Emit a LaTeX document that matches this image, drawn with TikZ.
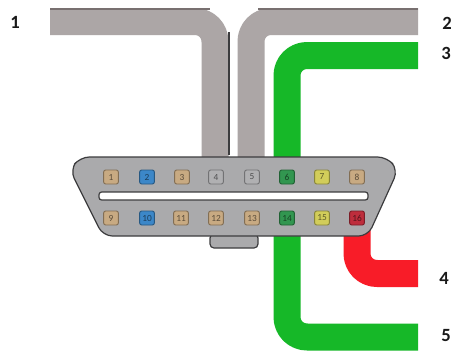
\documentclass[tikz,border=0pt]{standalone}
\usepackage{fontspec}
\setmainfont{Carlito}
\definecolor{wiregray}{RGB}{172,166,166}
\definecolor{wireedge}{RGB}{120,112,112}
\definecolor{wiregreen}{RGB}{22,184,40}
\definecolor{wirered}{RGB}{248,28,40}
\definecolor{body}{RGB}{170,170,172}
\definecolor{edge}{RGB}{60,60,62}
\definecolor{ptan}{RGB}{200,170,130}
\definecolor{pblue}{RGB}{60,135,200}
\definecolor{pgray}{RGB}{176,176,178}
\definecolor{pgreen}{RGB}{50,150,80}
\definecolor{pyellow}{RGB}{210,205,90}
\definecolor{pred}{RGB}{190,45,60}
\tikzset{
  x=0.75pt,y=-0.75pt,
  wire/.style={line width=20.25pt,rounded corners=15pt,line join=round},
  pin/.style={draw=#1!65!black,fill=#1,line width=0.7pt,rounded corners=1.5pt,minimum width=11pt,minimum height=10.5pt,inner sep=0pt,font=\fontsize{7}{7}\selectfont,text=#1!45!black},
  lab/.style={font=\bfseries\fontsize{14}{15}\selectfont,text=black!90}
}
\begin{document}
\begin{tikzpicture}
\useasboundingbox (0,0) rectangle (451,351);
\fill[white] (0,0) rectangle (451,351);
% wires
\draw[wire,wiregray] (50,21.5) -- (215,21.5) -- (215,165);
\draw[wire,wiregray] (418,21.5) -- (251,21.5) -- (251,165);
\fill[wireedge] (50,8) rectangle (210,10);
\fill[wireedge] (258,8) rectangle (418,10);
\draw[wire,wiregreen] (418,55.5) -- (287,55.5) -- (287,165);
\draw[wire,wiregreen] (287,225) -- (287,337) -- (418,337);
\draw[wire,wirered] (357,225) -- (357,273.5) -- (418,273.5);
\draw[edge,line width=0.9pt] (229,32) -- (229,155);
% body
\path[draw=edge,fill=body,line width=0.9pt,rounded corners=3pt] (210,234) -- (210,248) -- (258,248) -- (258,234) -- cycle;
\path[draw=edge,fill=body,line width=0.9pt,rounded corners=7pt]
  (80,157) -- (387,157) -- (398,170) -- (368,236) -- (103,236) -- (70,170) -- cycle;
\path[draw=edge,fill=white,line width=0.9pt,rounded corners=2pt] (99,192) rectangle (368,200);
% pins
\foreach \n/\x/\c in {1/111/ptan,2/147/pblue,3/182/ptan,4/216/pgray,5/252/pgray,6/287/pgreen,7/322/pyellow,8/357/ptan}
  \node[pin=\c] (p\n) at (\x,177) {\n};
\foreach \n/\x/\c in {9/111/ptan,10/147/pblue,11/181/ptan,12/216/ptan,13/252/ptan,14/287/pgreen,15/322/pyellow,16/357/pred}
  \node[pin=\c] (p\n) at (\x,218) {\n};
% labels
\node[lab] (l1) at (15,22) {1};
\node[lab] (l2) at (447,23) {2};
\node[lab] (l3) at (446,53) {3};
\node[lab] (l4) at (444,278) {4};
\node[lab] (l5) at (446,336) {5};
\end{tikzpicture}
\end{document}
